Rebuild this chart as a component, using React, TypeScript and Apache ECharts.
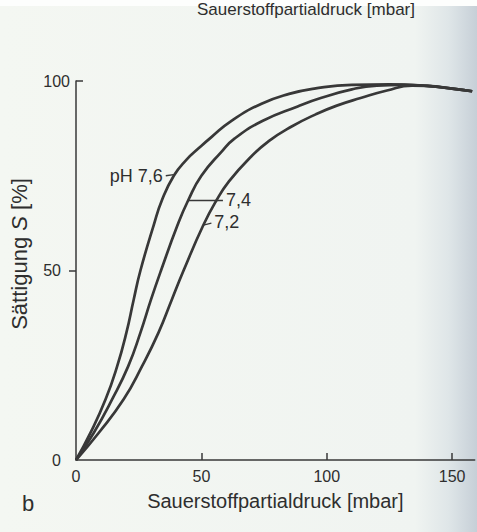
import React, { useEffect, useRef } from "react";
import * as echarts from "echarts";

// Axis ticks
const xTickValues = [0, 50, 100, 150];
const xTickMarks = [50, 100, 150];
const yTickValuesLow = [0, 50];
const yTickValuesTop = [100];

// Oxygen partial pressure [mbar] and saturation S [%] for each pH
const pO2_76 = [0, 5.8, 11.8, 16.4, 20.1, 23, 25.7, 31, 34.3, 39, 44, 49, 54, 62, 74, 85, 95, 110, 125, 140, 150, 158];
const sat_76 = [0, 7.2, 16, 24.7, 33.6, 42.3, 50, 62, 68.6, 75.0, 79.2, 82.3, 85.2, 89.5, 94, 96.6, 98, 99, 99.1, 98.7, 98.0, 97.3];

const pO2_74 = [0, 7.1, 14.4, 20.8, 25.7, 29.9, 33.9, 40.5, 44.8, 50, 58, 63.2, 74.5, 88.4, 97.6, 110, 120, 130, 140, 150, 158];
const sat_74 = [0, 7.2, 16, 24.7, 33.6, 42.3, 50, 62, 68.6, 75.0, 81.3, 84.8, 89.5, 93.3, 95.5, 97.8, 98.8, 99.0, 98.7, 98.0, 97.3];

const pO2_72 = [0, 9.1, 19, 26.3, 32.9, 38.2, 42.9, 50.8, 56.1, 61, 69, 77, 86, 95.6, 104, 113.5, 124, 134, 140, 150, 158];
const sat_72 = [0, 7.2, 16, 24.7, 33.6, 42.3, 50, 62, 68.6, 73.5, 79.5, 84.2, 88, 91.2, 93.5, 95.5, 97.5, 98.8, 98.7, 98.0, 97.3];

// pH labels with their leader lines [x1, y1, x2, y2]
const phLabels = ["pH 7,6", "7,4", "7,2"];
const leader76 = [35.8, 75.0, 39.0, 75.3];
const leader74 = [44.8, 68.6, 58.6, 68.6];
const leader72 = [50.8, 62.0, 54.0, 62.5];

const INK = "#383838";
const TEXT = "#2e2e2e";
const FONT = "'Liberation Sans', Arial, Helvetica, sans-serif";

function zip(xs: number[], ys: number[]) {
  return xs.map((x, i) => [x, ys[i]]);
}

function curve(xs: number[], ys: number[], label: string, leader: number[], pos: string) {
  return {
    type: "line",
    data: zip(xs, ys),
    smooth: 0.5,
    showSymbol: false,
    symbol: "none",
    lineStyle: { color: INK, width: 2.7 },
    z: 3,
    markLine: {
      silent: true,
      symbol: ["none", "none"],
      animation: false,
      lineStyle: { color: INK, width: 1.3, type: "solid" },
      label: {
        show: true,
        position: pos,
        formatter: label,
        color: TEXT,
        fontSize: 18,
        fontFamily: FONT,
        distance: 3,
      },
      data: [[{ coord: [leader[0], leader[1]] }, { coord: [leader[2], leader[3]] }]],
    },
  };
}

export default function App() {
  const ref = useRef<HTMLDivElement>(null);
  useEffect(() => {
    const chart = echarts.init(ref.current!, null, { renderer: "svg" });
    const option: any = {
      animation: false,
      backgroundColor: "#f3f6f1",
      grid: { left: 74, top: 81, right: 2.3, bottom: 72, containLabel: false },
      graphic: [
        {
          type: "rect",
          z: -10,
          silent: true,
          shape: { x: 0, y: 0, width: 477, height: 532 },
          style: {
            fill: new echarts.graphic.LinearGradient(0, 0, 1, 0, [
              { offset: 0, color: "#f4f7f2" },
              { offset: 0.87, color: "#f0f4f1" },
              { offset: 0.94, color: "#dfe6e8" },
              { offset: 1, color: "#c6cfd7" },
            ]),
          },
        },
        {
          type: "rect",
          z: -9,
          silent: true,
          shape: { x: 0, y: 0, width: 477, height: 6 },
          style: { fill: "#fdfefd" },
        },
        {
          type: "text",
          silent: true,
          style: {
            x: 415,
            y: 18,
            text: "Sauerstoffpartialdruck [mbar]",
            align: "right",
            verticalAlign: "bottom",
            fill: TEXT,
            font: `17px ${FONT}`,
          },
        },
        {
          type: "text",
          silent: true,
          style: {
            x: 22,
            y: 514,
            text: "b",
            align: "left",
            verticalAlign: "bottom",
            fill: TEXT,
            font: `22px ${FONT}`,
          },
        },
      ],
      xAxis: {
        type: "value",
        min: 0,
        max: 159,
        interval: 50,
        splitLine: { show: false },
        axisLine: { show: true, lineStyle: { color: INK, width: 1.5 } },
        axisTick: { show: true, inside: true, length: 7, customValues: xTickMarks, lineStyle: { color: INK, width: 1.5 } },
        axisLabel: { customValues: xTickValues, margin: 8, color: TEXT, fontSize: 16, fontFamily: FONT },
        name: "Sauerstoffpartialdruck [mbar]",
        nameLocation: "middle",
        nameGap: 31,
        nameTextStyle: { color: TEXT, fontSize: 20, fontFamily: FONT },
      },
      yAxis: [
        {
          type: "value",
          min: 0,
          max: 100,
          interval: 50,
          position: "left",
          splitLine: { show: false },
          axisLine: { show: true, lineStyle: { color: INK, width: 1.5 } },
          axisTick: { show: true, inside: false, length: 7, customValues: [50], lineStyle: { color: INK, width: 1.5 } },
          axisLabel: { customValues: yTickValuesLow, margin: 15, color: TEXT, fontSize: 16, fontFamily: FONT },
          name: "{n|Sättigung }{i|S}{n| [%]}",
          nameLocation: "middle",
          nameGap: 46,
          nameTextStyle: {
            padding: [0, 0, 0, 33],
            rich: {
              n: { color: TEXT, fontSize: 22, fontFamily: FONT },
              i: { color: TEXT, fontSize: 22, fontFamily: FONT, fontStyle: "italic" },
            },
          },
        },
        {
          type: "value",
          min: 0,
          max: 100,
          interval: 50,
          position: "left",
          offset: 0,
          splitLine: { show: false },
          axisLine: { show: false },
          axisTick: { show: true, inside: true, length: 7, customValues: yTickValuesTop, lineStyle: { color: INK, width: 1.5 } },
          axisLabel: { customValues: yTickValuesTop, margin: 6, color: TEXT, fontSize: 16, fontFamily: FONT },
        },
      ],
      series: [
        curve(pO2_76, sat_76, phLabels[0], leader76, "start"),
        curve(pO2_74, sat_74, phLabels[1], leader74, "end"),
        curve(pO2_72, sat_72, phLabels[2], leader72, "end"),
      ],
    };
    chart.setOption(option);
    return () => chart.dispose();
  }, []);
  return <div ref={ref} style={{ position: "fixed", left: 0, top: 0, width: 477, height: 532 }} />;
}
